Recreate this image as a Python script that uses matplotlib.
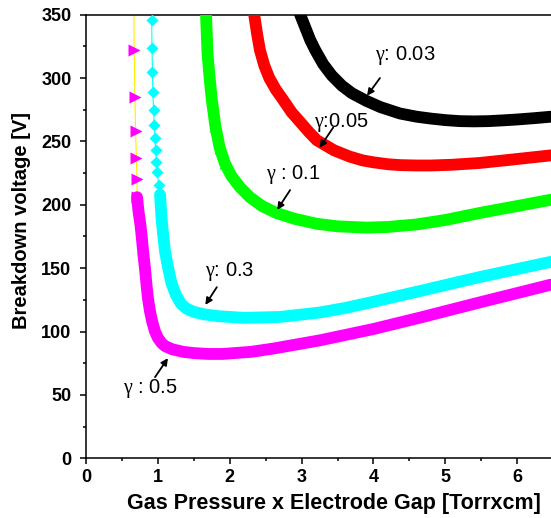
"""Curvas de Paschen para diferentes coeficientes gamma."""

import matplotlib

matplotlib.use("Agg")
import matplotlib.pyplot as plt

# gamma = 0.5 (trecho esparso com marcadores e trecho denso)
g05_sparse_x = [0.665, 0.67, 0.68, 0.69, 0.70, 0.71, 0.71]
g05_sparse_v = [370, 322, 285, 258, 237, 220, 206]
g05_x = [0.71, 0.73, 0.76, 0.78, 0.80, 0.82, 0.84, 0.86, 0.89, 0.92, 0.96, 1.0, 1.05, 1.1,
         1.2, 1.35, 1.5, 1.7, 1.9, 2.3, 2.6, 3.25, 4.0, 4.65, 5.48, 6.47]
g05_v = [206, 195, 183, 172, 160, 150, 138, 127, 116, 108, 100, 95, 91, 88.5,
         86, 84, 83, 82.3, 82.3, 84, 86.5, 93, 102, 111, 123, 137]

# gamma = 0.3
g03_sparse_x = [0.905, 0.914, 0.918, 0.925, 0.93, 0.94, 0.95, 0.96, 0.97, 0.98, 0.99, 1.01, 1.03]
g03_sparse_v = [372, 346, 324, 305, 289, 275, 263, 253, 243, 234, 226, 216, 208]
g03_x = [1.03, 1.05, 1.07, 1.10, 1.14, 1.19, 1.25, 1.32, 1.40, 1.5, 1.65, 1.86, 2.2, 2.7,
         3.25, 3.6, 4.0, 4.65, 5.48, 6.47]
g03_v = [208, 190, 178, 163, 151, 138, 129, 122, 118, 115.5, 113.5, 112, 110.8, 111.5,
         115, 118.5, 123.5, 132, 143, 155]

# gamma = 0.1
g01_x = [1.665, 1.67, 1.68, 1.69, 1.72, 1.75, 1.80, 1.86, 1.93, 2.02, 2.14, 2.28, 2.45, 2.65,
         2.9, 3.21, 3.5, 3.9, 4.2, 4.6, 5.0, 5.52, 6.0, 6.47]
g01_v = [362, 350, 335, 320, 300, 283, 262, 245, 233, 223, 214, 206, 199, 193.5,
         189, 185, 183, 182, 182.5, 184.5, 188, 194, 199, 204]

# gamma = 0.05
g005_x = [2.31, 2.34, 2.38, 2.42, 2.48, 2.55, 2.64, 2.74, 2.86, 3.0, 3.1, 3.21, 3.33, 3.45,
          3.56, 3.67, 3.85, 4.0, 4.2, 4.37, 4.6, 4.8, 5.1, 5.48, 5.9, 6.47]
g005_v = [362, 350, 335, 322, 310, 300, 291, 283, 273, 264, 257.5, 251, 247, 243,
          240.5, 238, 235, 233.5, 232, 231.3, 231, 231, 231.6, 233, 235.5, 239]

# gamma = 0.03
g003_x = [2.95, 2.98, 3.05, 3.12, 3.19, 3.3, 3.42, 3.56, 3.7, 3.9, 4.1, 4.37, 4.6, 4.8,
          5.0, 5.2, 5.4, 5.6, 5.8, 6.0, 6.25, 6.47]
g003_v = [360, 350, 340, 330, 322, 311, 302, 294, 288, 282, 277, 272, 269.5, 268,
          266.8, 266, 265.8, 266, 266.6, 267.3, 268.4, 269.5]

# rótulos: texto, posição do texto, ponta da seta
labels = [r"$\mathrm{\gamma}$: 0.03", r"$\mathrm{\gamma}$:0.05", r"$\mathrm{\gamma}$ : 0.1",
          r"$\mathrm{\gamma}$: 0.3", r"$\mathrm{\gamma}$ : 0.5"]
label_x = [4.44, 3.55, 2.89, 2.0, 0.89]
label_v = [318, 265, 223.5, 147, 55]
arrow_from_x = [4.09, 3.44, 2.84, 1.82, 0.96]
arrow_from_v = [300, 261, 211.6, 135, 64]
arrow_to_x = [3.91, 3.25, 2.66, 1.66, 1.14]
arrow_to_v = [286, 245, 196, 121, 79]


def main():
    plt.rcParams.update(
        {
            "font.family": ["Liberation Sans", "DejaVu Sans"],
            "font.size": 13,
            "axes.linewidth": 1.1,
            "mathtext.fontset": "custom",
            "mathtext.rm": "Liberation Serif",
            "mathtext.it": "Liberation Serif:italic",
        }
    )
    fig = plt.figure(figsize=(5.51, 5.18), dpi=100)
    ax = fig.add_axes([0.1561, 0.1153, 0.8439, 0.8564])

    band = 8.5

    # gamma = 0.5
    ax.plot(g05_sparse_x, g05_sparse_v, color="#ffee00", lw=0.8, zorder=2)
    ax.plot(g05_sparse_x, g05_sparse_v, ls="none", marker=">", ms=8,
            color="#ff00ff", mec="none", zorder=3)
    ax.plot(g05_x, g05_v, color="#ff00ff", lw=band, solid_capstyle="round",
            solid_joinstyle="round", zorder=3)

    # gamma = 0.3
    ax.plot(g03_sparse_x, g03_sparse_v, color="#00ffff", lw=0.8, zorder=2)
    ax.plot(g03_sparse_x, g03_sparse_v, ls="none", marker="D", ms=6.5,
            color="#00ffff", mec="none", zorder=3)
    ax.plot(g03_x, g03_v, color="#00ffff", lw=band, solid_capstyle="round",
            solid_joinstyle="round", zorder=3)

    # gamma = 0.1
    ax.plot(g01_x, g01_v, color="#00ff00", lw=band, solid_capstyle="round",
            solid_joinstyle="round", zorder=3)
    ax.plot(g01_x[:9], g01_v[:9], ls="none", marker="^", ms=8.5,
            color="#00ff00", mec="none", zorder=3)

    # gamma = 0.05 e 0.03
    ax.plot(g005_x, g005_v, color="#ff0000", lw=band, solid_capstyle="round",
            solid_joinstyle="round", zorder=3)
    ax.plot(g003_x, g003_v, color="#000000", lw=band, solid_capstyle="round",
            solid_joinstyle="round", zorder=3)

    for i, txt in enumerate(labels):
        ax.text(label_x[i], label_v[i], txt, ha="center", va="center", fontsize=14.5)
        ax.annotate(
            "",
            xy=(arrow_to_x[i], arrow_to_v[i]),
            xytext=(arrow_from_x[i], arrow_from_v[i]),
            arrowprops=dict(arrowstyle="-|>", color="black", lw=1.3,
                            mutation_scale=10, shrinkA=0, shrinkB=0),
            zorder=5,
        )

    ax.set_xlim(0, 6.47)
    ax.set_ylim(0, 350)
    ax.set_xticks(range(0, 7))
    ax.set_xticks([0.5, 1.5, 2.5, 3.5, 4.5, 5.5], minor=True)
    ax.set_yticks(range(0, 351, 50))
    ax.set_yticks(range(25, 350, 50), minor=True)
    ax.tick_params(which="major", direction="out", length=4.5, width=1.1,
                   labelsize=13)
    ax.tick_params(axis="y", which="major", pad=6)
    ax.tick_params(axis="x", which="major", pad=3)
    ax.tick_params(which="minor", direction="out", length=2.5, width=1.1)
    for lab in ax.get_xticklabels() + ax.get_yticklabels():
        lab.set_fontweight("bold")
    ax.spines["right"].set_visible(False)

    ax.set_xlabel("Gas Pressure x Electrode Gap [Torrxcm]", fontweight="bold",
                  fontsize=15.5)
    ax.set_ylabel("Breakdown voltage [V]", fontweight="bold", fontsize=14.5)
    ax.xaxis.set_label_coords(0.533, -0.078)
    ax.yaxis.set_label_coords(-0.118, 0.535)

    fig.savefig("out.png", dpi=100)
    plt.close(fig)


if __name__ == "__main__":
    main()
